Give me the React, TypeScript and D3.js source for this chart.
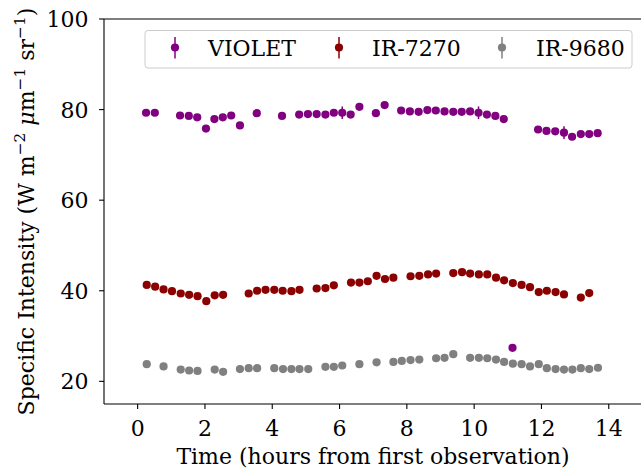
import React from "react";
import * as d3 from "d3";

const violetTimes = [0.25, 0.51, 1.26, 1.52, 1.77, 2.03, 2.28, 2.53, 2.78, 3.04, 3.54, 4.29, 4.80, 5.06, 5.32, 5.58, 5.83, 6.08, 6.33, 6.59, 7.08, 7.34, 7.83, 8.09, 8.35, 8.61, 8.86, 9.12, 9.38, 9.63, 9.88, 10.13, 10.38, 10.63, 10.88, 11.14, 11.90, 12.15, 12.41, 12.67, 12.91, 13.17, 13.42, 13.67];
const violetValues = [79.3, 79.3, 78.7, 78.6, 78.3, 75.8, 77.9, 78.3, 78.7, 76.5, 79.2, 78.6, 78.9, 79.0, 79.0, 78.9, 79.3, 79.3, 78.9, 80.6, 79.2, 81.0, 79.8, 79.6, 79.5, 79.9, 79.8, 79.6, 79.5, 79.5, 79.6, 79.3, 78.9, 78.6, 77.9, 27.4, 75.6, 75.3, 75.2, 74.9, 74.0, 74.6, 74.6, 74.8];
const violetErrors = violetTimes.map((t) => (t === 6.08 || t === 10.13 || t === 12.67 ? 1.4 : 0.6));

const ir7270Times = [0.27, 0.52, 0.77, 1.02, 1.28, 1.53, 1.78, 2.04, 2.29, 2.54, 3.30, 3.55, 3.80, 4.06, 4.31, 4.57, 4.81, 5.32, 5.58, 5.83, 6.34, 6.59, 6.84, 7.10, 7.35, 7.60, 8.11, 8.37, 8.63, 8.87, 9.38, 9.64, 9.88, 10.14, 10.39, 10.65, 10.89, 11.15, 11.41, 11.66, 11.92, 12.16, 12.42, 12.67, 13.17, 13.42];
const ir7270Values = [41.3, 40.9, 40.3, 39.9, 39.4, 39.1, 38.8, 37.7, 39.0, 39.1, 39.4, 40.0, 40.2, 40.2, 40.0, 39.9, 40.2, 40.5, 40.6, 41.2, 41.8, 41.8, 42.1, 43.3, 42.6, 42.9, 43.2, 43.3, 43.6, 43.8, 43.9, 44.1, 43.8, 43.6, 43.6, 42.9, 42.3, 41.7, 41.3, 40.8, 39.7, 40.0, 39.7, 39.2, 38.5, 39.5];
const ir7270Errors = ir7270Times.map(() => 0.5);

const ir9680Times = [0.27, 0.77, 1.28, 1.53, 1.78, 2.29, 2.54, 3.04, 3.30, 3.55, 4.06, 4.32, 4.57, 4.81, 5.07, 5.58, 5.83, 6.08, 6.59, 7.10, 7.60, 7.85, 8.11, 8.37, 8.87, 9.12, 9.38, 9.88, 10.14, 10.39, 10.65, 10.89, 11.15, 11.41, 11.66, 11.92, 12.16, 12.42, 12.67, 12.92, 13.17, 13.42, 13.68];
const ir9680Values = [23.8, 23.3, 22.6, 22.4, 22.3, 22.6, 22.1, 22.7, 22.9, 22.9, 22.9, 22.7, 22.7, 22.7, 22.7, 23.2, 23.2, 23.5, 23.8, 24.2, 24.3, 24.5, 24.7, 24.8, 25.1, 25.2, 26.0, 25.2, 25.2, 25.1, 24.8, 24.3, 23.9, 23.8, 23.3, 23.8, 22.9, 22.7, 22.6, 22.6, 22.9, 22.7, 23.0];
const ir9680Errors = ir9680Times.map(() => 0.5);

const seriesNames = ["VIOLET", "IR-7270", "IR-9680"];
const seriesColors = ["#800080", "#8b0000", "#808080"];

const xTicks = [0, 2, 4, 6, 8, 10, 12, 14];
const yTicks = [20, 40, 60, 80, 100];

const FONT = "'DejaVu Serif', serif";
const FS = 22;

export default function App() {
  const W = 641;
  const H = 470;
  const left = 104;
  const right = 642.4;
  const top = 19;
  const bottom = 404;
  const x = d3.scaleLinear().domain([-1, 15]).range([left, right]);
  const y = d3.scaleLinear().domain([15, 100]).range([bottom, top]);

  const series = [
    { t: violetTimes, v: violetValues, e: violetErrors },
    { t: ir7270Times, v: ir7270Values, e: ir7270Errors },
    { t: ir9680Times, v: ir9680Values, e: ir9680Errors },
  ];

  const legendX = [175, 339, 502];
  const legendTextX = [208, 372, 536];

  return (
    <svg width={W} height={H} style={{ position: "absolute", left: 0, top: 0, background: "#fff" }}>
      <defs>
        <clipPath id="plotclip">
          <rect x={left} y={top} width={right - left} height={bottom - top} />
        </clipPath>
      </defs>
      <g clipPath="url(#plotclip)">
        {series.map((s, si) => (
          <g key={si}>
            {s.t.map((t, i) => (
              <g key={i}>
                <line
                  x1={x(t)}
                  x2={x(t)}
                  y1={y(s.v[i] - s.e[i])}
                  y2={y(s.v[i] + s.e[i])}
                  stroke={seriesColors[si]}
                  strokeWidth={1.5}
                />
                <circle cx={x(t)} cy={y(s.v[i])} r={4.1} fill={seriesColors[si]} />
              </g>
            ))}
          </g>
        ))}
      </g>
      <g stroke="#000" strokeWidth={1.1} fill="none">
        <line x1={left} x2={left} y1={top} y2={bottom} />
        <line x1={left} x2={right} y1={bottom} y2={bottom} />
        <line x1={left} x2={right} y1={top} y2={top} />
        <line x1={right} x2={right} y1={top} y2={bottom} />
      </g>
      {xTicks.map((t) => (
        <g key={t}>
          <line x1={x(t)} x2={x(t)} y1={bottom} y2={bottom + 4.9} stroke="#000" strokeWidth={1.1} />
          <text x={x(t)} y={435.5} textAnchor="middle" fontFamily={FONT} fontSize={FS} fill="#000">
            {t}
          </text>
        </g>
      ))}
      {yTicks.map((v) => (
        <g key={v}>
          <line x1={left - 4.9} x2={left} y1={y(v)} y2={y(v)} stroke="#000" strokeWidth={1.1} />
          <text x={88.5} y={y(v) + 8} textAnchor="end" fontFamily={FONT} fontSize={FS} fill="#000">
            {v}
          </text>
        </g>
      ))}
      <text x={373} y={463.5} textAnchor="middle" fontFamily={FONT} fontSize={FS} fill="#000">
        Time (hours from first observation)
      </text>
      <text
        transform={`translate(34, ${(top + bottom) / 2}) rotate(-90)`}
        textAnchor="middle"
        fontFamily={FONT}
        fontSize={FS}
        fill="#000"
      >
        <tspan>Specific Intensity (W m</tspan>
        <tspan dy={-9} fontSize={15.4}>−2</tspan>
        <tspan dy={9}> </tspan>
        <tspan fontStyle="italic">μ</tspan>
        <tspan>m</tspan>
        <tspan dy={-9} fontSize={15.4}>−1</tspan>
        <tspan dy={9}> sr</tspan>
        <tspan dy={-9} fontSize={15.4}>−1</tspan>
        <tspan dy={9}>)</tspan>
      </text>
      <rect x={145} y={30.5} width={487} height={37.5} rx={3} ry={3} fill="#fff" fillOpacity={0.8} stroke="#cccccc" strokeWidth={1} />
      {seriesNames.map((name, i) => (
        <g key={name}>
          <line x1={legendX[i]} x2={legendX[i]} y1={37} y2={58.5} stroke={seriesColors[i]} strokeWidth={1.5} />
          <circle cx={legendX[i]} cy={47.5} r={4.1} fill={seriesColors[i]} />
          <text x={legendTextX[i]} y={55.5} fontFamily={FONT} fontSize={FS} fill="#000">
            {name}
          </text>
        </g>
      ))}
    </svg>
  );
}
